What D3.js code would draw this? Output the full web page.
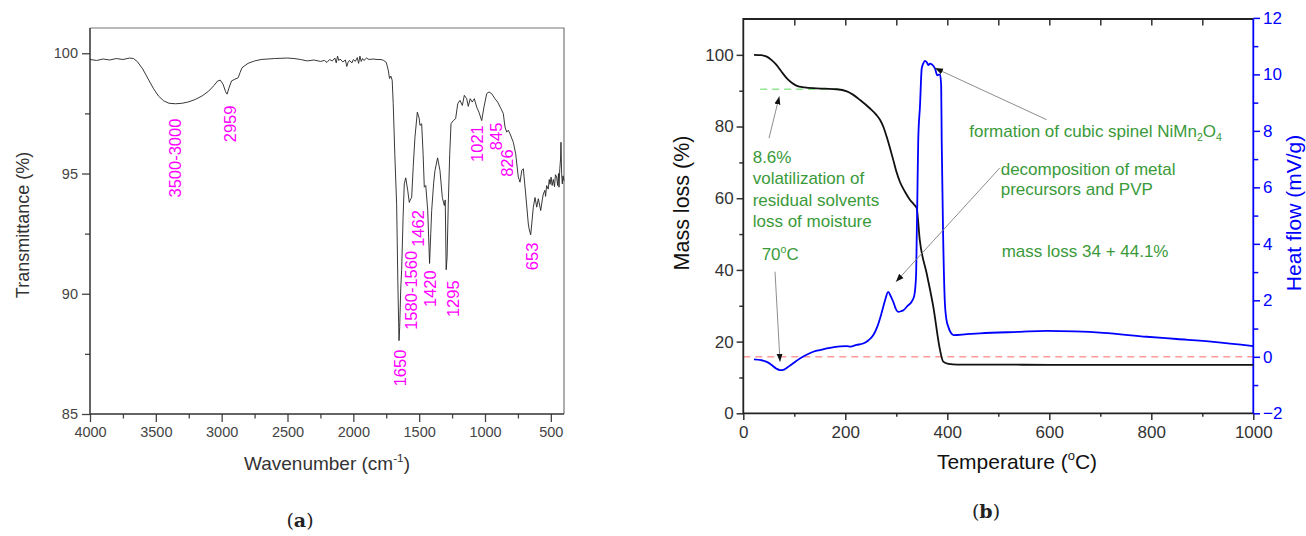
<!DOCTYPE html>
<html><head><meta charset="utf-8">
<script src="https://cdn.jsdelivr.net/npm/d3@7"></script>
<style>
body{margin:0;background:#fff;}
svg{display:block;}
</style></head><body>
<svg id="c" width="1306" height="536"></svg>
<script>
// ---------- Panel (a): FTIR ----------
const ftirWn = [4000,3950,3900,3850,3800,3750,3700,3670,3640,3600,3560,3520,3480,3440,3400,3350,3300,3250,3200,3150,3100,3060,3030,3010,2990,2970,2959,2945,2925,2900,2875,2860,2845,2800,2750,2700,2600,2500,2450,2400,2350,2300,2250,2220,2200,2180,2160,2140,2130,2120,2110,2100,2080,2060,2050,2040,2030,2010,2000,1985,1970,1960,1950,1940,1930,1920,1900,1880,1850,1820,1790,1770,1750,1735,1725,1715,1705,1697,1685,1671,1662,1656,1653,1648,1640,1633,1622,1613,1602,1587,1575,1568,1557,1545,1532,1514,1500,1494,1481,1470,1461,1450,1435,1421,1412,1405,1390,1380,1360,1342,1324,1309,1302,1295,1288,1279,1268,1258,1241,1223,1207,1190,1172,1157,1139,1127,1112,1097,1081,1063,1046,1025,1008,987,970,950,924,904,879,861,848,835,823,810,785,767,747,734,721,709,691,671,665,653,645,633,620,607,595,577,565,557,545,540,532,520,512,506,498,490,481,472,465,456,448,442,438,432,426,423,418,413,408,400];
const ftirT = [99.74,99.70,99.76,99.72,99.78,99.74,99.80,99.78,99.65,99.35,98.95,98.55,98.22,98.02,97.92,97.90,97.92,97.98,98.08,98.22,98.42,98.65,98.85,98.88,98.72,98.40,98.30,98.55,98.85,98.92,98.98,99.20,99.40,99.58,99.68,99.74,99.78,99.80,99.78,99.74,99.68,99.72,99.66,99.70,99.62,99.74,99.68,99.80,99.60,99.88,99.70,99.76,99.64,99.72,99.45,99.62,99.70,99.60,99.74,99.66,99.82,99.58,99.88,99.66,99.78,99.70,99.80,99.74,99.76,99.74,99.74,99.70,99.62,99.30,98.95,99.05,98.88,97.9,95.8,93.7,90.5,88.8,88.05,88.6,90.2,91.0,93.2,94.57,94.82,94.3,93.8,93.9,94.0,95.3,96.5,97.55,97.3,97.0,97.07,95.8,94.43,94.5,93.46,91.26,92.5,93.46,94.6,95.12,95.65,95.12,94.0,93.67,93.9,91.0,91.5,93.7,95.8,97.07,97.2,97.28,97.9,98.04,97.83,98.25,98.11,97.79,98.11,97.97,98.11,97.76,97.55,97.2,97.76,98.32,98.39,98.32,98.11,97.97,97.7,97.49,96.93,96.72,96.8,96.65,96.3,95.82,94.85,94.64,95.12,95.2,94.15,92.9,92.7,92.45,92.9,93.6,94.0,93.6,93.95,93.46,93.9,94.15,94.3,94.05,94.5,94.35,94.75,94.55,94.85,94.5,94.75,94.45,94.95,94.85,94.5,95.0,94.43,95.2,95.6,96.3,95.0,94.57,94.9,94.7];
const ftirXTicks = [4000,3500,3000,2500,2000,1500,1000,500];
const ftirXMinor = [3750,3250,2750,2250,1750,1250,750];
const ftirYTicks = [85,90,95,100];
const ftirYMinor = [87.5,92.5,97.5];
const peakLabels = ["3500-3000","2959","1650","1580-1560","1462","1420","1295","1021","845","826","653"];
const peakLabelWn = [3354,2939,1646,1562,1511,1418,1241,1063,916,835,643];
const peakLabelT = [94.0,96.3,86.15,88.5,91.95,89.45,89.03,95.48,95.97,94.86,90.98];

// ---------- Panel (b): TGA / DSC ----------
const tgaTemp = [21,35,46,55,65,75,85,95,105,120,137,160,183,203,215,229,248,260,268,275,281,288,294,300,307,317,327,335,340,346,359.6,372.5,385.7,392,402,420,500,600,700,800,900,1000];
const tgaMass = [100,99.9,99.5,98.6,97.2,95.3,93.5,92.2,91.35,90.95,90.7,90.55,90.4,89.8,88.9,87.4,85.1,83.4,81.9,79.8,77.2,73.8,70.7,67.5,64.6,61.8,59.5,58.2,57.2,48.4,39,29.75,17.7,14.4,13.8,13.6,13.6,13.5,13.5,13.5,13.5,13.5];
const dscTemp = [21,35,46,55,65,72,80,90,100,111,125,137,150,170,190,203,210,222,235,245,255,263,271,278,284,289,294,299,304,310,314,322,330,335,337,339,340,341,343,346.5,349.8,353,356,360,362.7,366,369.4,376,380.4,385.7,388,389,392,395,398,402,407,412,438,464,542,595,650,706,791,850,922,1000];
const dscHeat = [-0.09,-0.12,-0.18,-0.28,-0.42,-0.47,-0.45,-0.33,-0.2,-0.06,0.08,0.18,0.24,0.32,0.37,0.38,0.36,0.42,0.47,0.58,0.77,1.08,1.54,2.0,2.3,2.15,1.95,1.7,1.59,1.62,1.65,1.8,1.95,2.15,2.4,3.0,4.2,5.3,7.67,8.9,10.2,10.39,10.48,10.42,10.33,10.38,10.36,10.2,9.97,10.0,9.6,7.67,4.13,2.0,1.35,1.06,0.85,0.77,0.80,0.83,0.885,0.92,0.9,0.85,0.71,0.63,0.53,0.38];
const tempTicks = [0,200,400,600,800,1000];
const tempMinor = [100,300,500,700,900];
const massTicks = [0,20,40,60,80,100];
const massMinor = [10,30,50,70,90];
const heatTicks = [-2,0,2,4,6,8,10,12];
const heatMinor = [-1,1,3,5,7,9,11];
const plateauLine = {t0:33, t1:195, mass:90.4};
// annotation texts, anchored in (temperature, mass %) coordinates
const noteTexts = ["formation of cubic spinel NiMn_{2}O_{4}","decomposition of metal","precursors and PVP","mass loss 34 + 44.1%","8.6%","volatilization of","residual solvents","loss of moisture","70^{o}C"];
const noteTemp = [443,504.7,504.7,506.7,18.4,18.4,18.4,18.4,36];
const noteMass = [77.2,66.5,60.9,43.5,69.9,63.9,57.9,52.1,42.8];
const arrowFromT = [50.4,62.2,503.3,594.9];
const arrowFromM = [76.75,39.5,68.5,81.9];
const arrowToT = [70.6,72,299.4,375.9];
const arrowToM = [88.4,14.4,36.7,96.3];

const FONT = '"Liberation Sans", Arial, sans-serif';
const svg = d3.select("#c").attr("font-family", FONT);

const defs = svg.append("defs");
defs.append("marker").attr("id","ah").attr("viewBox","0 0 10 10").attr("refX",10).attr("refY",5)
  .attr("markerWidth",8).attr("markerHeight",8).attr("markerUnits","userSpaceOnUse").attr("orient","auto")
  .append("path").attr("d","M0,1.2L10,5L0,8.8Z").attr("fill","#111");

function richText(sel, str, fs) {
  const parts = str.split(/(_\{[^}]*\}|\^\{[^}]*\})/).filter(s => s.length);
  let shift = 0;
  parts.forEach(p => {
    const t = sel.append("tspan");
    let target = 0, size = fs, txt = p;
    if (p.startsWith("_{")) { target = fs*0.28; size = fs*0.62; txt = p.slice(2,-1); }
    else if (p.startsWith("^{")) { target = -fs*0.42; size = fs*0.62; txt = p.slice(2,-1); }
    t.attr("dy", target - shift).attr("font-size", size).text(txt);
    shift = target;
  });
}
function styleAxis(g, color, fs, w) {
  g.attr("font-family", FONT).attr("font-size", fs);
  g.select(".domain").remove();
  g.selectAll(".tick line").attr("stroke", color).attr("stroke-width", w || 1.3);
  g.selectAll(".tick text").attr("fill", color);
}

// ===== Panel (a) =====
const xA = d3.scaleLinear().domain([4000,400]).range([90,564]);
const yA = d3.scaleLinear().domain([85,101.05]).range([414,28]);
const gA = svg.append("g");
gA.append("path").attr("d",`M${xA.range()[0]},${yA.range()[1]}H${xA.range()[1]}V${yA.range()[0]}`)
  .attr("fill","none").attr("stroke","#777").attr("stroke-width",1.2);
const aL = gA.append("g").attr("transform",`translate(${xA.range()[0]},0)`)
  .call(d3.axisLeft(yA).tickValues(ftirYTicks).tickSize(8).tickPadding(4).tickFormat(d3.format("d")));
styleAxis(aL,"#444",14.5);
const aLm = gA.append("g").attr("transform",`translate(${xA.range()[0]},0)`)
  .call(d3.axisLeft(yA).tickValues(ftirYMinor).tickSize(5).tickFormat(""));
styleAxis(aLm,"#444",14.5);
const aB = gA.append("g").attr("transform",`translate(0,${yA.range()[0]})`)
  .call(d3.axisBottom(xA).tickValues(ftirXTicks).tickSize(8).tickPadding(5).tickFormat(d3.format("d")));
styleAxis(aB,"#444",14.5);
const aBm = gA.append("g").attr("transform",`translate(0,${yA.range()[0]})`)
  .call(d3.axisBottom(xA).tickValues(ftirXMinor).tickSize(4.5).tickFormat(""));
styleAxis(aBm,"#444",14.5);
gA.append("path").attr("d",`M${xA.range()[0]},${yA.range()[1]}V${yA.range()[0]}H${xA.range()[1]}`)
  .attr("fill","none").attr("stroke","#333").attr("stroke-width",1.5);

const lineA = d3.line().x((d,i)=>xA(ftirWn[i])).y((d,i)=>yA(ftirT[i]));
gA.append("path").datum(ftirWn).attr("d",lineA).attr("fill","none").attr("stroke","#222").attr("stroke-width",0.9);

gA.selectAll("text.pk").data(peakLabels).join("text").attr("class","pk")
  .attr("transform",(d,i)=>`translate(${xA(peakLabelWn[i])},${yA(peakLabelT[i])}) rotate(-90)`)
  .attr("dy","0.36em").attr("fill","#ff00ff").attr("font-size",16.5).text(d=>d);

const tA = gA.append("text").attr("transform","translate(28.5,225) rotate(-90)").attr("text-anchor","middle")
  .attr("font-size",18).attr("fill","#333");
richText(tA,"Transmittance (%)",18);
const xAt = gA.append("text").attr("x",327).attr("y",470).attr("text-anchor","middle").attr("font-size",19).attr("fill","#333");
richText(xAt,"Wavenumber (cm^{-1})",19);
const capA = gA.append("text").attr("x",300).attr("y",527).attr("text-anchor","middle")
  .attr("font-family","'DejaVu Serif', serif").attr("font-size",19).attr("fill","#222");
capA.append("tspan").text("(");
capA.append("tspan").attr("font-weight","bold").text("a");
capA.append("tspan").text(")");

// ===== Panel (b) =====
const xB = d3.scaleLinear().domain([0,1000]).range([743.3,1253.3]);
const yB = d3.scaleLinear().domain([0,110]).range([413.3,19]);
const yH = d3.scaleLinear().domain([-2,12]).range([413.3,17.9]);
const gB = svg.append("g");

gB.append("line").attr("x1",xB(0)).attr("x2",xB(1000)).attr("y1",yH(0)).attr("y2",yH(0))
  .attr("stroke","#ff9a9a").attr("stroke-width",1.4).attr("stroke-dasharray","7,5");
gB.append("line").attr("x1",xB(plateauLine.t0)).attr("x2",xB(plateauLine.t1)).attr("y1",yB(plateauLine.mass)).attr("y2",yB(plateauLine.mass))
  .attr("stroke","#8fe68f").attr("stroke-width",1.4).attr("stroke-dasharray","7,5");

const bL = gB.append("g").attr("transform",`translate(${xB.range()[0]},0)`)
  .call(d3.axisLeft(yB).tickValues(massTicks).tickSize(6.7).tickPadding(3).tickFormat(d3.format("d")));
styleAxis(bL,"#333",17,1.5);
const bLm = gB.append("g").attr("transform",`translate(${xB.range()[0]},0)`)
  .call(d3.axisLeft(yB).tickValues(massMinor).tickSize(4).tickFormat(""));
styleAxis(bLm,"#333",17,1.5);
const bB = gB.append("g").attr("transform",`translate(0,${yB.range()[0]})`)
  .call(d3.axisBottom(xB).tickValues(tempTicks).tickSize(6.7).tickPadding(6).tickFormat(d3.format("d")));
styleAxis(bB,"#333",17,1.5);
const bBm = gB.append("g").attr("transform",`translate(0,${yB.range()[0]})`)
  .call(d3.axisBottom(xB).tickValues(tempMinor).tickSize(3.5).tickFormat(""));
styleAxis(bBm,"#333",17,1.5);
const bT = gB.append("g").attr("transform",`translate(0,${yB.range()[1]})`)
  .call(d3.axisBottom(xB).tickValues(tempTicks.concat(tempMinor).filter(v=>v>0&&v<1000)).tickSize(6.5).tickFormat(""));
styleAxis(bT,"#333",17,1.5);
const bR = gB.append("g").attr("transform",`translate(${xB.range()[1]},0)`)
  .call(d3.axisRight(yH).tickValues(heatTicks).tickSize(6.7).tickPadding(3).tickFormat(d3.format("d")));
styleAxis(bR,"#0000ff",17,1.5);
const bRm = gB.append("g").attr("transform",`translate(${xB.range()[1]},0)`)
  .call(d3.axisRight(yH).tickValues(heatMinor).tickSize(5).tickFormat(""));
styleAxis(bRm,"#0000ff",17,1.5);
gB.append("path").attr("d",`M${xB.range()[1]},${yB.range()[1]}H${xB.range()[0]}V${yB.range()[0]}H${xB.range()[1]}`)
  .attr("fill","none").attr("stroke","#222").attr("stroke-width",1.8);
gB.append("line").attr("x1",xB.range()[1]).attr("x2",xB.range()[1]).attr("y1",yB.range()[1]).attr("y2",yB.range()[0])
  .attr("stroke","#0000ff").attr("stroke-width",1.8);

const lineM = d3.line().curve(d3.curveMonotoneX).x((d,i)=>xB(tgaTemp[i])).y((d,i)=>yB(tgaMass[i]));
gB.append("path").datum(tgaTemp).attr("d",lineM).attr("fill","none").attr("stroke","#111").attr("stroke-width",1.8);
const lineH = d3.line().curve(d3.curveMonotoneX).x((d,i)=>xB(dscTemp[i])).y((d,i)=>yH(dscHeat[i]));
gB.append("path").datum(dscTemp).attr("d",lineH).attr("fill","none").attr("stroke","#0000ff").attr("stroke-width",1.8);

gB.selectAll("line.arr").data(arrowFromT).join("line").attr("class","arr")
  .attr("x1",(d,i)=>xB(arrowFromT[i])).attr("y1",(d,i)=>yB(arrowFromM[i]))
  .attr("x2",(d,i)=>xB(arrowToT[i])).attr("y2",(d,i)=>yB(arrowToM[i]))
  .attr("stroke","#808080").attr("stroke-width",0.9).attr("marker-end","url(#ah)");

noteTexts.forEach((s,i)=>{
  const t = gB.append("text").attr("x",xB(noteTemp[i])).attr("y",yB(noteMass[i])).attr("font-size",17).attr("fill","#3a9a3a");
  richText(t,s,17);
});

const tL = gB.append("text").attr("transform","translate(689,203) rotate(-90)").attr("text-anchor","middle").attr("font-size",21.5).attr("fill","#111");
richText(tL,"Mass loss (%)",21.5);
const tR = gB.append("text").attr("transform","translate(1300.5,213) rotate(-90)").attr("text-anchor","middle").attr("font-size",21).attr("fill","#0000ff");
richText(tR,"Heat flow (mV/g)",21);
const tX = gB.append("text").attr("x",1017).attr("y",469).attr("text-anchor","middle").attr("font-size",21).attr("fill","#111");
richText(tX,"Temperature (^{o}C)",21);
const capB = gB.append("text").attr("x",986).attr("y",518).attr("text-anchor","middle")
  .attr("font-family","'DejaVu Serif', serif").attr("font-size",19).attr("fill","#222");
capB.append("tspan").text("(");
capB.append("tspan").attr("font-weight","bold").text("b");
capB.append("tspan").text(")");
</script>
</body></html>
